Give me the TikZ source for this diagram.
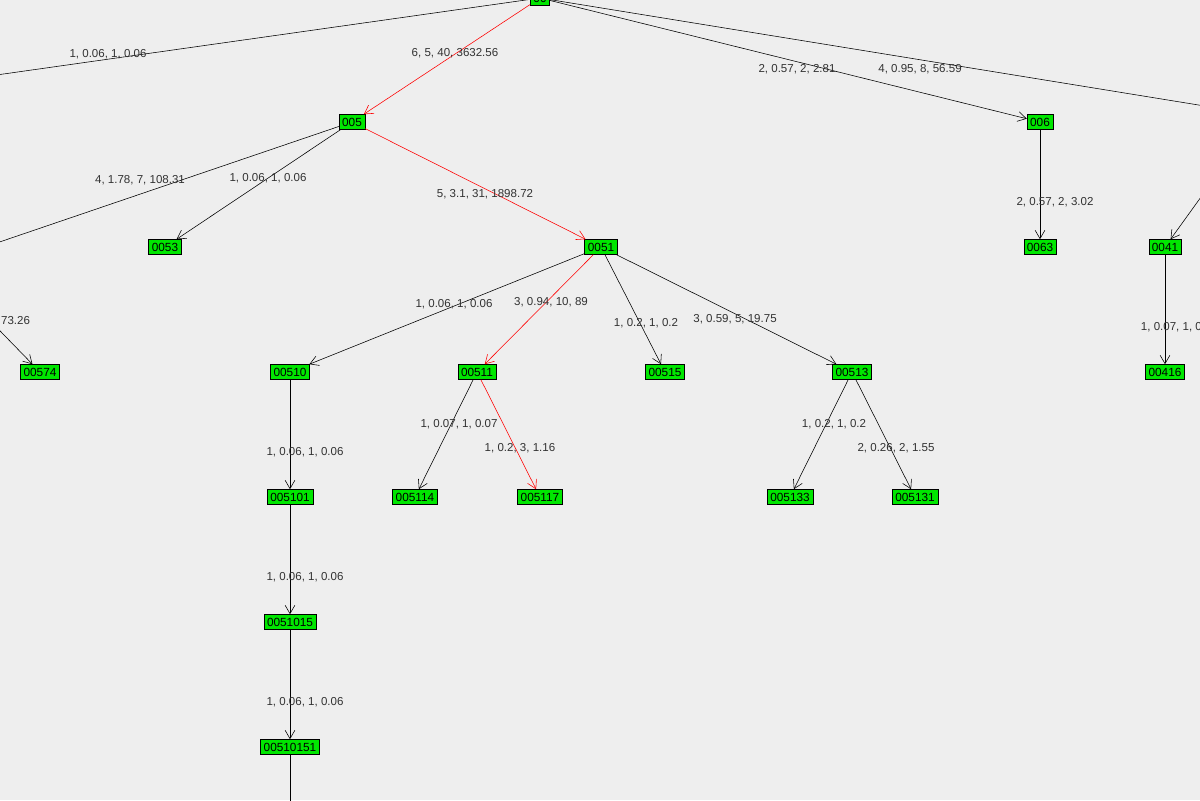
\documentclass[tikz,border=0pt]{standalone}
\usepackage{fontspec}
\setmainfont{Liberation Sans}
\usetikzlibrary{arrows.meta}
\definecolor{bg}{RGB}{238,238,238}
\definecolor{leaf}{RGB}{0,230,0}
\definecolor{lbl}{RGB}{50,50,50}
\tikzset{
  box/.style={draw=black,fill=leaf,inner xsep=2.2pt,inner ysep=1.2pt,minimum height=15*0.025cm,font=\fontsize{8.4}{9}\selectfont},
  edge/.style={draw=black,-{Straight Barb[length=6pt,width=7pt]}},
  hot/.style={edge,draw=red},
  wt/.style={text=lbl,font=\fontsize{8.2}{9}\selectfont}
}
\begin{document}
\begin{tikzpicture}[x=0.025cm,y=-0.025cm]
   \useasboundingbox (0,0) rectangle (1200,800);
   \clip (0,0) rectangle (1200,800);
   \fill[bg] (0,0) rectangle (1200,800);

   % nodes off the page
   \coordinate (n00x) at (-300,117);
   \coordinate (n004) at (1260,115);
   \coordinate (n005x) at (-300,344);
   \coordinate (n0057) at (-30,300);
   \coordinate (n00510151x) at (290,840);

   \node[box] (n00) at (540,-2) {00};
   \node[box] (n005) at (352,122) {005};
   \node[box] (n006) at (1040,122) {006};
   \node[box] (n0053) at (165,247) {0053};
   \node[box] (n0051) at (601,247) {0051};
   \node[box] (n0063) at (1040,247) {0063};
   \node[box] (n0041) at (1165,247) {0041};
   \node[box] (n00574) at (40,372) {00574};
   \node[box] (n00510) at (290,372) {00510};
   \node[box] (n00511) at (477,372) {00511};
   \node[box] (n00515) at (665,372) {00515};
   \node[box] (n00513) at (852,372) {00513};
   \node[box] (n00416) at (1165,372) {00416};
   \node[box] (n005101) at (290,497) {005101};
   \node[box] (n005114) at (415,497) {005114};
   \node[box] (n005117) at (540,497) {005117};
   \node[box] (n005133) at (790,497) {005133};
   \node[box] (n005131) at (915,497) {005131};
   \node[box] (n0051015) at (290,622) {0051015};
   \node[box] (n00510151) at (290,747) {00510151};

   \draw[edge] (n00) -- (n00x);
   \draw[hot] (n00) -- (n005);
   \draw[edge] (n00) -- (n006);
   \draw[edge] (n00) -- (n004);
   \draw[edge] (n004) -- (n0041);
   \draw[edge] (n005) -- (n005x);
   \draw[edge] (n005) -- (n0053);
   \draw[hot] (n005) -- (n0051);
   \draw[edge] (n006) -- (n0063);
   \draw[edge] (n0057) -- (n00574);
   \draw[edge] (n0051) -- (n00510);
   \draw[hot] (n0051) -- (n00511);
   \draw[edge] (n0051) -- (n00515);
   \draw[edge] (n0051) -- (n00513);
   \draw[edge] (n0041) -- (n00416);
   \draw[edge] (n00510) -- (n005101);
   \draw[edge] (n00511) -- (n005114);
   \draw[hot] (n00511) -- (n005117);
   \draw[edge] (n00513) -- (n005133);
   \draw[edge] (n00513) -- (n005131);
   \draw[edge] (n005101) -- (n0051015);
   \draw[edge] (n0051015) -- (n00510151);
   \draw (n00510151) -- (n00510151x);

   % weights
   \node[wt] (w1) at (108,54) {1, 0.06, 1, 0.06};
   \node[wt] (w2) at (455,53) {6, 5, 40, 3632.56};
   \node[wt] (w3) at (797,69) {2, 0.57, 2, 2.81};
   \node[wt] (w4) at (920,69) {4, 0.95, 8, 56.59};
   \node[wt] (w5) at (140,180) {4, 1.78, 7, 108.31};
   \node[wt] (w6) at (268,178) {1, 0.06, 1, 0.06};
   \node[wt] (w7) at (485,194) {5, 3.1, 31, 1898.72};
   \node[wt] (w8) at (1055,202) {2, 0.57, 2, 3.02};
   \node[wt,anchor=east] (w9) at (35,321) {73.26};
   \node[wt] (w10) at (454,304) {1, 0.06, 1, 0.06};
   \node[wt] (w11) at (551,302) {3, 0.94, 10, 89};
   \node[wt] (w12) at (646,323) {1, 0.2, 1, 0.2};
   \node[wt] (w13) at (735,319) {3, 0.59, 5, 19.75};
   \node[wt,anchor=west] (w14) at (1136,327) {1, 0.07, 1, 0.07};
   \node[wt] (w15) at (305,452) {1, 0.06, 1, 0.06};
   \node[wt] (w16) at (459,424) {1, 0.07, 1, 0.07};
   \node[wt] (w17) at (520,448) {1, 0.2, 3, 1.16};
   \node[wt] (w18) at (834,424) {1, 0.2, 1, 0.2};
   \node[wt] (w19) at (896,448) {2, 0.26, 2, 1.55};
   \node[wt] (w20) at (305,577) {1, 0.06, 1, 0.06};
   \node[wt] (w21) at (305,702) {1, 0.06, 1, 0.06};
\end{tikzpicture}
\end{document}
